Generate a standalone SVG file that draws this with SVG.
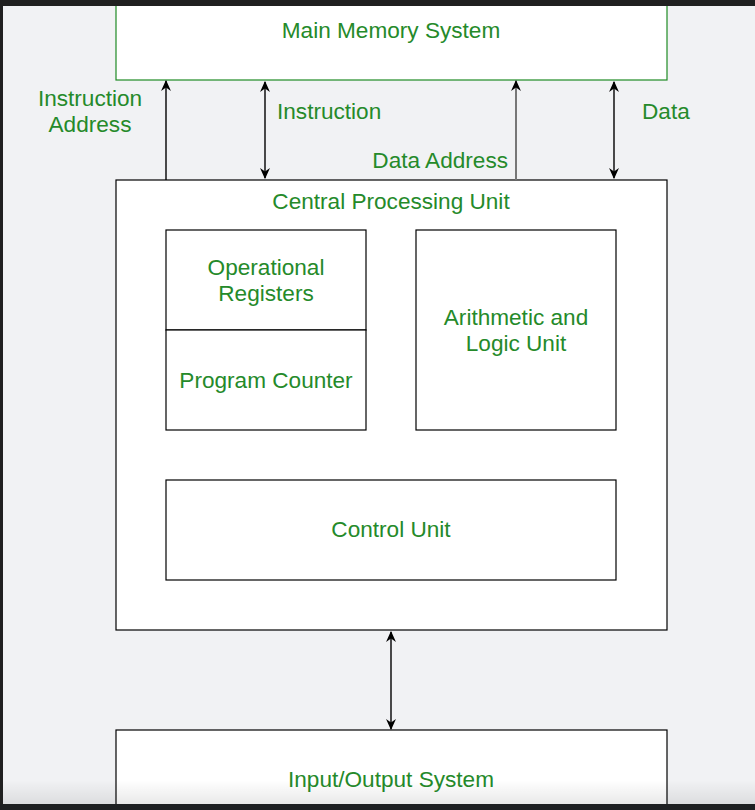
<svg xmlns="http://www.w3.org/2000/svg" width="755" height="810" viewBox="0 0 755 810">
<style>
.t{font-family:"Liberation Sans",Arial,sans-serif;font-size:22.6px;fill:#258a2a;text-anchor:middle}
.box{fill:#ffffff;stroke:#000000;stroke-width:1.2}
.gbox{fill:#ffffff;stroke:#1f8a24;stroke-width:1.2}
.c{stroke:#000000;stroke-width:1.4;fill:none}
</style>
<defs>
<marker id="ah" viewBox="0 0 10 10" refX="9" refY="5" markerWidth="11" markerHeight="11" markerUnits="userSpaceOnUse" orient="auto-start-reverse">
<path d="M0,0.5 L10,5 L0,9.5 L3,5 Z" fill="#000"/>
</marker>
<linearGradient id="shade" x1="0" y1="0" x2="0" y2="1">
<stop offset="0" stop-color="#000" stop-opacity="0"/>
<stop offset="1" stop-color="#000" stop-opacity="0.09"/>
</linearGradient>
</defs>
<rect x="0" y="0" width="755" height="810" fill="#f1f2f4"/>
<g id="main-memory">
<rect class="gbox" x="116" y="-2" width="551" height="82"/>
<text class="t" x="391" y="38">Main Memory System</text>
</g>
<g id="cpu">
<rect class="box" x="116" y="180" width="551" height="450"/>
<text class="t" x="391" y="209">Central Processing Unit</text>
</g>
<g id="operational-registers">
<rect class="box" x="166" y="230" width="200" height="100"/>
<text class="t" x="266" y="275">Operational</text>
<text class="t" x="266" y="301">Registers</text>
</g>
<g id="program-counter">
<rect class="box" x="166" y="330" width="200" height="100"/>
<text class="t" x="266" y="388">Program Counter</text>
</g>
<g id="alu">
<rect class="box" x="416" y="230" width="200" height="200"/>
<text class="t" x="516" y="325">Arithmetic and</text>
<text class="t" x="516" y="351">Logic Unit</text>
</g>
<g id="control-unit">
<rect class="box" x="166" y="480" width="450" height="100"/>
<text class="t" x="391" y="537">Control Unit</text>
</g>
<g id="io-system">
<rect class="box" x="116" y="730" width="551" height="90"/>
<text class="t" x="391" y="787">Input/Output System</text>
</g>
<g id="connectors">
<line class="c" x1="166" y1="180" x2="166" y2="81" marker-end="url(#ah)"/>
<line class="c" x1="265" y1="82" x2="265" y2="178" marker-start="url(#ah)" marker-end="url(#ah)"/>
<line x1="516" y1="180" x2="516" y2="81" stroke="#777" stroke-width="2" marker-end="url(#ah)"/>
<line class="c" x1="614" y1="82" x2="614" y2="178" marker-start="url(#ah)" marker-end="url(#ah)"/>
<line class="c" x1="391" y1="632" x2="391" y2="729" marker-start="url(#ah)" marker-end="url(#ah)"/>
<text class="t" x="90" y="106">Instruction</text>
<text class="t" x="90" y="132">Address</text>
<text class="t" x="277" y="119" style="text-anchor:start">Instruction</text>
<text class="t" x="508" y="168" style="text-anchor:end">Data Address</text>
<text class="t" x="642" y="119" style="text-anchor:start">Data</text>
</g>
<rect x="0" y="780" width="755" height="25" fill="url(#shade)"/>
<rect x="0" y="0" width="755" height="6" fill="#202020"/>
<rect x="0" y="0" width="3" height="810" fill="#202020"/>
<rect x="0" y="804" width="755" height="6" fill="#1e2022"/>
</svg>
